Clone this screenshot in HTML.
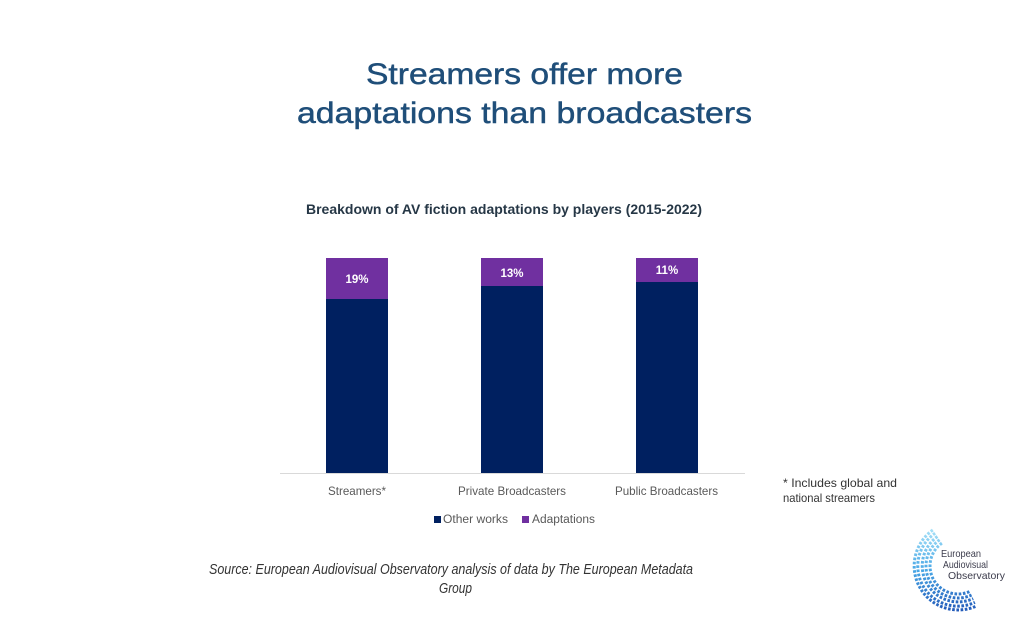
<!DOCTYPE html>
<html>
<head>
<meta charset="utf-8">
<style>
  html,body{margin:0;padding:0;background:#fff;}
  svg{display:block;}
</style>
</head>
<body>
<svg width="1024" height="617" viewBox="0 0 1024 617" xmlns="http://www.w3.org/2000/svg">
  <defs>
    <linearGradient id="lg" gradientUnits="userSpaceOnUse" x1="0" y1="528" x2="0" y2="612">
      <stop offset="0" stop-color="#a8e2f8"/>
      <stop offset="0.5" stop-color="#4aa8e6"/>
      <stop offset="1" stop-color="#2158b8"/>
    </linearGradient>
  </defs>
  <rect width="1024" height="617" fill="#ffffff"/>

  <!-- Title -->
  <g font-family="'Liberation Sans', sans-serif" font-size="30" fill="#1f4e79" stroke="#1f4e79" stroke-width="0.45">
    <text x="366" y="84" textLength="317" lengthAdjust="spacingAndGlyphs">Streamers offer more</text>
    <text x="297" y="123" textLength="455" lengthAdjust="spacingAndGlyphs">adaptations than broadcasters</text>
  </g>

  <!-- Subtitle -->
  <text x="306" y="214" font-family="'Liberation Sans', sans-serif" font-size="13.5" font-weight="bold" fill="#263746" textLength="396" lengthAdjust="spacingAndGlyphs">Breakdown of AV fiction adaptations by players (2015-2022)</text>

  <!-- Axis line -->
  <line x1="280" y1="473.5" x2="745" y2="473.5" stroke="#d9d9d9" stroke-width="1"/>

  <!-- Bars -->
  <rect x="326" y="258" width="62" height="41" fill="#7030a0"/>
  <rect x="326" y="299" width="62" height="174" fill="#002060"/>
  <rect x="481" y="258" width="62" height="28" fill="#7030a0"/>
  <rect x="481" y="286" width="62" height="187" fill="#002060"/>
  <rect x="636" y="258" width="62" height="24" fill="#7030a0"/>
  <rect x="636" y="282" width="62" height="191" fill="#002060"/>

  <!-- Bar labels -->
  <g font-family="'Liberation Sans', sans-serif" font-size="11.5" font-weight="bold" fill="#ffffff" text-anchor="middle">
    <text x="357" y="283">19%</text>
    <text x="512" y="277">13%</text>
    <text x="667" y="274">11%</text>
  </g>

  <!-- Category labels -->
  <g font-family="'Liberation Sans', sans-serif" font-size="12" fill="#595959">
    <text x="328" y="495" textLength="58" lengthAdjust="spacingAndGlyphs">Streamers*</text>
    <text x="458" y="495" textLength="108" lengthAdjust="spacingAndGlyphs">Private Broadcasters</text>
    <text x="615" y="495" textLength="103" lengthAdjust="spacingAndGlyphs">Public Broadcasters</text>
  </g>

  <!-- Legend -->
  <rect x="434" y="516" width="7" height="7" fill="#002060"/>
  <text x="443" y="523" font-family="'Liberation Sans', sans-serif" font-size="11.5" fill="#595959" textLength="65" lengthAdjust="spacingAndGlyphs">Other works</text>
  <rect x="522" y="516" width="7" height="7" fill="#7030a0"/>
  <text x="532" y="523" font-family="'Liberation Sans', sans-serif" font-size="11.5" fill="#595959" textLength="63" lengthAdjust="spacingAndGlyphs">Adaptations</text>

  <!-- Footnote -->
  <g font-family="'Liberation Sans', sans-serif" font-size="12" fill="#333333">
    <text x="783" y="487" textLength="114" lengthAdjust="spacingAndGlyphs">* Includes global and</text>
    <text x="783" y="502" textLength="92" lengthAdjust="spacingAndGlyphs">national streamers</text>
  </g>

  <!-- Source -->
  <g font-family="'Liberation Sans', sans-serif" font-size="14.5" font-style="italic" fill="#333333">
    <text x="209" y="574" textLength="484" lengthAdjust="spacingAndGlyphs">Source: European Audiovisual Observatory analysis of data by The European Metadata</text>
    <text x="439" y="593" textLength="33" lengthAdjust="spacingAndGlyphs">Group</text>
  </g>

  <!-- Logo -->
  <g fill="none" stroke="url(#lg)" stroke-width="3" stroke-dasharray="2.6 1.6">
    <path d="M 941.9 543.1 A 28 28 0 0 0 969.8 591.4"/>
    <path d="M 939.6 539.8 A 32 32 0 0 0 971.5 595.0"/>
    <path d="M 937.4 536.5 A 36 36 0 0 0 973.2 598.6"/>
    <path d="M 935.1 533.2 A 40 40 0 0 0 974.9 602.3"/>
    <path d="M 932.8 530.0 A 44 44 0 0 0 976.6 605.9"/>
  </g>
  <g font-family="'Liberation Sans', sans-serif" font-size="10.5" fill="#3c3c4c">
    <text x="941" y="557" textLength="40" lengthAdjust="spacingAndGlyphs">European</text>
    <text x="943" y="568" textLength="45" lengthAdjust="spacingAndGlyphs">Audiovisual</text>
    <text x="948" y="579" textLength="57" lengthAdjust="spacingAndGlyphs">Observatory</text>
  </g>
</svg>
</body>
</html>
